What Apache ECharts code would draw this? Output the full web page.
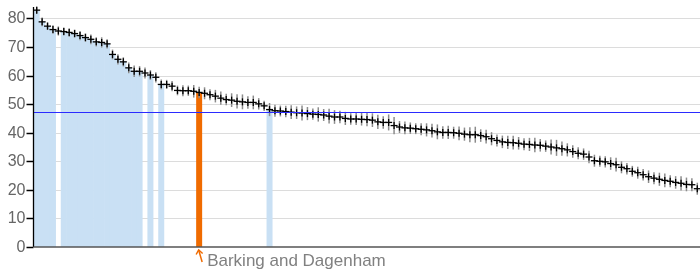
<!DOCTYPE html>
<html>
<head>
<meta charset="utf-8">
<script src="https://cdn.jsdelivr.net/npm/echarts@6/dist/echarts.min.js"></script>
<style>
  html, body { margin: 0; padding: 0; background: #fff; }
  #chart { width: 700px; height: 271px; }
</style>
</head>
<body>
<div id="chart"></div>
<script>
// values per area, sorted high to low
const values = [
  82.9, 78.8, 77.3, 76.1, 75.6, 75.4, 75.1, 74.7, 74.0, 73.3,
  72.7, 71.8, 71.6, 71.1, 67.4, 65.7, 64.8, 62.7, 61.5, 61.5,
  60.9, 60.2, 59.4, 56.9, 56.9, 56.3, 54.8, 54.7, 54.7, 54.5,
  54.1, 53.8, 53.3, 52.8, 52.1, 51.6, 51.4, 51.0, 50.8, 50.6,
  50.6, 50.1, 49.4, 48.1, 47.7, 47.6, 47.4, 47.2, 47.0, 46.9,
  46.7, 46.5, 46.4, 46.2, 45.8, 45.5, 45.5, 45.0, 44.8, 44.8,
  44.7, 44.6, 44.4, 43.8, 43.6, 43.6, 42.5, 42.0, 41.7, 41.6,
  41.4, 41.2, 41.0, 40.7, 40.3, 40.1, 40.1, 40.0, 39.8, 39.5,
  39.3, 39.3, 39.0, 38.6, 37.9, 37.3, 36.8, 36.6, 36.5, 36.3,
  36.0, 35.9, 35.7, 35.6, 35.3, 35.0, 34.7, 34.4, 34.0, 33.4,
  32.8, 32.5, 31.5, 30.2, 30.0, 29.8, 29.2, 28.8, 27.9, 27.4,
  26.5, 26.0, 25.3, 24.6, 24.1, 23.7, 23.3, 23.0, 22.6, 22.3,
  21.9, 21.8, 20.4
]
// half width of the confidence interval
const ciHalf = [
  1.2, 1.5, 1.3, 1.5, 1.6, 1.4, 1.5, 1.4, 1.6, 1.5,
  1.7, 1.6, 1.8, 1.6, 1.7, 1.8, 1.6, 1.9, 2.0, 1.8,
  1.9, 1.7, 1.8, 1.7, 1.6, 1.8, 1.7, 1.9, 1.8, 2.2,
  2.0, 2.1, 1.9, 2.2, 2.3, 2.0, 2.4, 2.5, 2.6, 2.2,
  2.4, 2.0, 1.8, 2.3, 2.1, 1.9, 2.0, 2.4, 2.2, 2.6,
  2.3, 2.0, 2.5, 2.1, 2.6, 2.4, 2.2, 2.3, 2.0, 2.1,
  2.2, 2.3, 2.4, 2.5, 2.2, 2.8, 3.0, 2.1, 2.2, 2.0,
  1.9, 2.1, 2.3, 2.4, 2.6, 2.2, 2.3, 2.1, 2.4, 2.3,
  2.6, 2.8, 2.2, 2.4, 2.3, 2.1, 2.2, 2.3, 2.4, 2.2,
  2.1, 2.3, 2.5, 2.2, 2.0, 2.6, 2.8, 2.5, 2.3, 2.2,
  2.1, 2.0, 2.2, 2.1, 1.9, 2.0, 2.2, 2.4, 2.1, 2.0,
  1.9, 2.1, 2.0, 2.2, 2.1, 2.3, 2.4, 2.1, 2.2, 2.5,
  2.4, 2.3, 2.1
]
// areas shaded light blue (significantly higher)
const higherIdx = [0, 1, 2, 3, 5, 6, 7, 8, 9, 10, 11, 12, 13, 14, 15, 16, 17, 18, 19, 21, 23, 43]
const selectedIdx = 30
const selectedName = 'Barking and Dagenham'
const englandValue = 47.1
const yTicks = [0, 10, 20, 30, 40, 50, 60, 70, 80]
const yMax = 84

const categories = values.map((v, i) => i === selectedIdx ? selectedName : 'area ' + (i + 1))

const barData = values.map((v, i) => {
  let color = 'rgba(0,0,0,0)'
  if (i === selectedIdx) color = '#f06b00'
  else if (higherIdx.includes(i)) color = '#c9e0f4'
  return { value: v, itemStyle: { color: color } }
})
const errData = values.map((v, i) => [i, v, v - ciHalf[i], v + ciHalf[i]])
const tickData = yTicks.map(v => [0, v])

const chart = echarts.init(document.getElementById('chart'))
chart.setOption({
  animation: false,
  grid: { left: 34, right: 0, top: 7, bottom: 24 },
  xAxis: {
    type: 'category',
    data: categories,
    axisLine: { lineStyle: { color: '#555', width: 1.5 } },
    axisTick: { show: false },
    axisLabel: { show: false },
    splitLine: { show: false },
    z: 10,
  },
  yAxis: {
    type: 'value',
    min: 0,
    max: yMax,
    axisLine: { show: false },
    axisTick: { show: false },
    axisLabel: { show: false },
    splitLine: { show: false },
  },
  series: [
    {
      // horizontal gridlines behind the bars
      type: 'custom',
      data: tickData,
      encode: { x: 0, y: 1 },
      clip: false,
      z: 0,
      renderItem: function (params, api) {
        const cs = params.coordSys
        const y = Math.round(api.coord([0, api.value(1)])[1]) + 0.5
        if (api.value(1) === 0) return null
        return { type: 'line', shape: { x1: cs.x, y1: y, x2: cs.x + cs.width, y2: y }, style: { stroke: '#dcdcdc', lineWidth: 1 } }
      },
    },
    {
      type: 'bar',
      data: barData,
      barWidth: 6,
      markLine: {
        silent: true,
        symbol: 'none',
        label: { show: false },
        lineStyle: { color: '#2b2bff', width: 1, type: 'solid' },
        data: [{ yAxis: englandValue }],
      },
      z: 1,
    },
    {
      type: 'custom',
      data: errData,
      encode: { x: 0, y: 1 },
      clip: false,
      z: 3,
      renderItem: function (params, api) {
        const i = api.value(0)
        const c = api.coord([i, api.value(1)])
        const lo = api.coord([i, api.value(2)])
        const hi = api.coord([i, api.value(3)])
        return {
          type: 'group',
          children: [
            { type: 'line', shape: { x1: c[0], y1: lo[1], x2: c[0], y2: hi[1] }, style: { stroke: '#8c8c8c', lineWidth: 1.5 } },
            { type: 'line', shape: { x1: c[0] - 3.5, y1: c[1], x2: c[0] + 3.5, y2: c[1] }, style: { stroke: '#000', lineWidth: 1.3 } },
            { type: 'line', shape: { x1: c[0], y1: c[1] - 3.5, x2: c[0], y2: c[1] + 3.5 }, style: { stroke: '#000', lineWidth: 1.3 } },
          ],
        }
      },
    },
    {
      // y axis line, ticks and labels, placed through the y scale
      type: 'custom',
      data: tickData,
      encode: { x: 0, y: 1 },
      clip: false,
      z: 5,
      renderItem: function (params, api) {
        const cs = params.coordSys
        const v = api.value(1)
        const y = Math.round(api.coord([0, v])[1]) + 0.5
        const x0 = cs.x - 0.5
        const children = [
          { type: 'line', shape: { x1: x0 - 7, y1: y, x2: x0, y2: y }, style: { stroke: '#000', lineWidth: 1.5 } },
          {
            type: 'text',
            style: {
              x: x0 - 8,
              y: y,
              text: String(v),
              fill: '#666',
              font: '16px "Liberation Sans", Arial, sans-serif',
              align: 'right',
              verticalAlign: 'middle',
            },
          },
        ]
        if (params.dataIndex === 0) {
          children.push({ type: 'line', shape: { x1: x0, y1: cs.y, x2: x0, y2: cs.y + cs.height }, style: { stroke: '#000', lineWidth: 1.3 } })
        }
        return { type: 'group', children: children }
      },
    },
    {
      // label for the selected area under the axis
      type: 'custom',
      data: [[selectedIdx, 0]],
      encode: { x: 0, y: 1 },
      clip: false,
      z: 4,
      renderItem: function (params, api) {
        const p = api.coord([api.value(0), 0])
        const tipX = p[0] - 0.5
        const tipY = p[1] + 3
        return {
          type: 'group',
          children: [
            { type: 'polyline', shape: { points: [[tipX, tipY], [tipX + 3.5, tipY + 12]] }, style: { stroke: '#f06b00', lineWidth: 1.5, fill: null } },
            { type: 'polyline', shape: { points: [[tipX - 2.5, tipY + 4.5], [tipX, tipY], [tipX + 4, tipY + 3.5]] }, style: { stroke: '#f06b00', lineWidth: 1.5, fill: null } },
            {
              type: 'text',
              style: {
                x: p[0] + 8,
                y: p[1] + 14,
                text: selectedName,
                fill: '#808080',
                font: '17px "Liberation Sans", Arial, sans-serif',
                verticalAlign: 'middle',
                align: 'left',
              },
            },
          ],
        }
      },
    },
  ],
})
</script>
</body>
</html>
